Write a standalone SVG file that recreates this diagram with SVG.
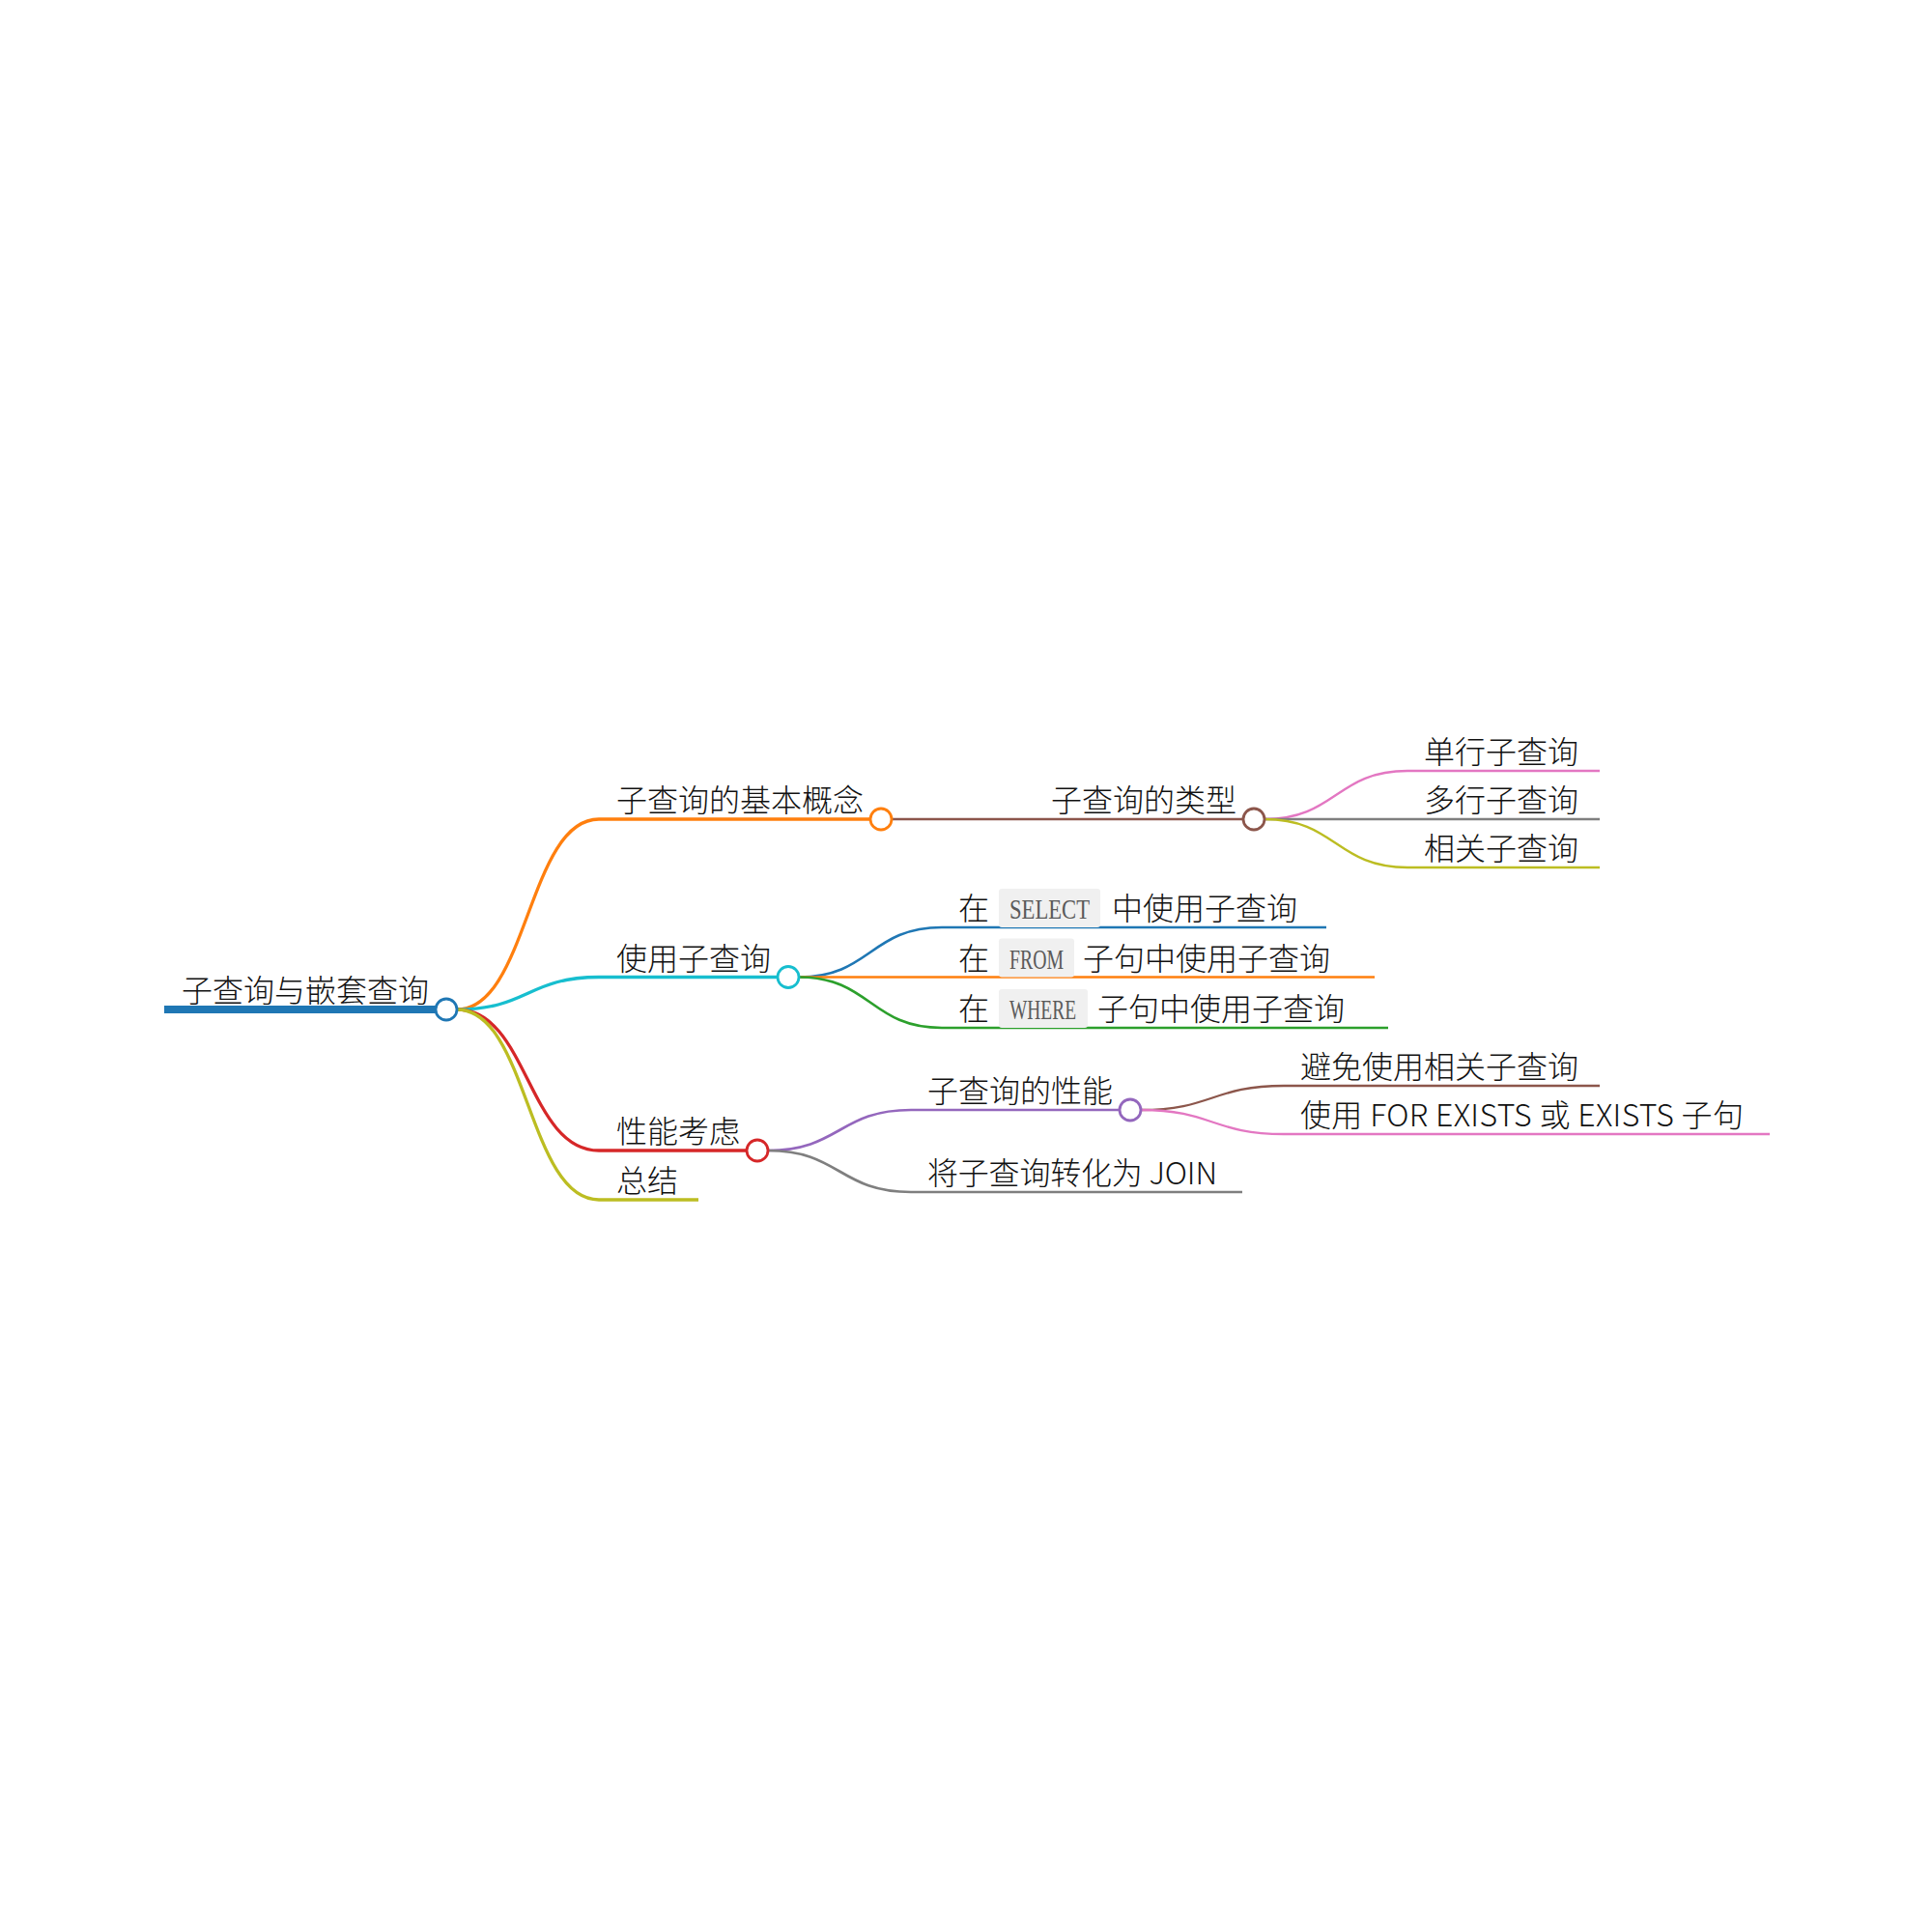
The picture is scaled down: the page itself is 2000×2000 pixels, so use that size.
<svg xmlns="http://www.w3.org/2000/svg" width="2000" height="2000" viewBox="0 0 2000 2000">
<style>
.t{font-family:"Noto Sans CJK SC","Noto Sans",sans-serif;font-size:32px;font-weight:300;fill:#111}
.c{font-family:"Liberation Serif",serif;font-size:29px;fill:#5a5a5a}
.box{fill:#f0f0f0}
.lk{fill:none;stroke-linecap:butt}
.d1{stroke-width:3.3}
.d2{stroke-width:2.7}
.d3{stroke-width:2.3}
.dot{fill:#fff;stroke-width:2.8}
</style>
<rect width="2000" height="2000" fill="#fff"/>
<g id="connectors" class="lk">
<path class="d1" stroke="#ff7f0e" d="M473,1045 C546.5,1045 546.5,848 620,848"/>
<path class="d1" stroke="#17becf" d="M473,1045 C546.5,1045 546.5,1011.5 620,1011.5"/>
<path class="d1" stroke="#d62728" d="M473,1045 C546.5,1045 546.5,1191 620,1191"/>
<path class="d1" stroke="#bcbd22" d="M473,1045 C546.5,1045 546.5,1242 620,1242"/>
<path class="d2" stroke="#8c564b" d="M923,848 L1071,848"/>
<path class="d2" stroke="#1f77b4" d="M827,1011.5 C901,1011.5 901,960 975,960"/>
<path class="d2" stroke="#ff7f0e" d="M827,1011.5 L975,1011.5"/>
<path class="d2" stroke="#2ca02c" d="M827,1011.5 C901,1011.5 901,1064 975,1064"/>
<path class="d2" stroke="#9467bd" d="M795,1191 C869,1191 869,1149 943,1149"/>
<path class="d2" stroke="#7f7f7f" d="M795,1191 C869,1191 869,1234 943,1234"/>
<path class="d3" stroke="#e377c2" d="M1309,848 C1383,848 1383,798 1457,798"/>
<path class="d3" stroke="#7f7f7f" d="M1309,848 L1457,848"/>
<path class="d3" stroke="#bcbd22" d="M1309,848 C1383,848 1383,898 1457,898"/>
<path class="d3" stroke="#8c564b" d="M1181,1149 C1255,1149 1255,1124 1329,1124"/>
<path class="d3" stroke="#e377c2" d="M1181,1149 C1255,1149 1255,1174 1329,1174"/>
</g>
<g id="root">
<line x1="170" y1="1045" x2="462" y2="1045" stroke="#1f77b4" stroke-width="8"/>
<text class="t" x="188" y="1037">子查询与嵌套查询</text>
<circle class="dot" cx="462" cy="1045" r="11" stroke="#1f77b4"/>
</g>
<g id="n-basic">
<line x1="620" y1="848" x2="912" y2="848" stroke="#ff7f0e" stroke-width="3.3"/>
<text class="t" x="638" y="840">子查询的基本概念</text>
<circle class="dot" cx="912" cy="848" r="11" stroke="#ff7f0e"/>
</g>
<g id="n-types">
<line x1="1071" y1="848" x2="1298" y2="848" stroke="#8c564b" stroke-width="2.7"/>
<text class="t" x="1088" y="840">子查询的类型</text>
<circle class="dot" cx="1298" cy="848" r="11" stroke="#8c564b"/>
</g>
<g id="n-single">
<line x1="1457" y1="798" x2="1656" y2="798" stroke="#e377c2" stroke-width="2.3"/>
<text class="t" x="1474" y="790">单行子查询</text>
</g>
<g id="n-multi">
<line x1="1457" y1="848" x2="1656" y2="848" stroke="#7f7f7f" stroke-width="2.3"/>
<text class="t" x="1474" y="840">多行子查询</text>
</g>
<g id="n-corr">
<line x1="1457" y1="898" x2="1656" y2="898" stroke="#bcbd22" stroke-width="2.3"/>
<text class="t" x="1474" y="890">相关子查询</text>
</g>
<g id="n-use">
<line x1="620" y1="1011.5" x2="816" y2="1011.5" stroke="#17becf" stroke-width="3.3"/>
<text class="t" x="638" y="1003.5">使用子查询</text>
<circle class="dot" cx="816" cy="1011.5" r="11" stroke="#17becf"/>
</g>
<g id="n-select">
<line x1="975" y1="960" x2="1373" y2="960" stroke="#1f77b4" stroke-width="2.7"/>
<text class="t" x="992" y="952">在</text>
<rect class="box" x="1034" y="920" width="105" height="40" rx="3"/>
<text class="c" x="1045" y="951" textLength="83" lengthAdjust="spacingAndGlyphs">SELECT</text>
<text class="t" x="1151" y="952">中使用子查询</text>
</g>
<g id="n-from">
<line x1="975" y1="1011.5" x2="1423" y2="1011.5" stroke="#ff7f0e" stroke-width="2.7"/>
<text class="t" x="992" y="1003.5">在</text>
<rect class="box" x="1034" y="971.5" width="78" height="40" rx="3"/>
<text class="c" x="1045" y="1002.5" textLength="56" lengthAdjust="spacingAndGlyphs">FROM</text>
<text class="t" x="1121" y="1003.5">子句中使用子查询</text>
</g>
<g id="n-where">
<line x1="975" y1="1064" x2="1437" y2="1064" stroke="#2ca02c" stroke-width="2.7"/>
<text class="t" x="992" y="1056">在</text>
<rect class="box" x="1034" y="1024" width="92" height="40" rx="3"/>
<text class="c" x="1045" y="1055" textLength="69" lengthAdjust="spacingAndGlyphs">WHERE</text>
<text class="t" x="1136" y="1056">子句中使用子查询</text>
</g>
<g id="n-perf">
<line x1="620" y1="1191" x2="784" y2="1191" stroke="#d62728" stroke-width="3.3"/>
<text class="t" x="638" y="1183">性能考虑</text>
<circle class="dot" cx="784" cy="1191" r="11" stroke="#d62728"/>
</g>
<g id="n-subperf">
<line x1="943" y1="1149" x2="1170" y2="1149" stroke="#9467bd" stroke-width="2.7"/>
<text class="t" x="960" y="1141">子查询的性能</text>
<circle class="dot" cx="1170" cy="1149" r="11" stroke="#9467bd"/>
</g>
<g id="n-avoid">
<line x1="1329" y1="1124" x2="1656" y2="1124" stroke="#8c564b" stroke-width="2.3"/>
<text class="t" x="1346" y="1116">避免使用相关子查询</text>
</g>
<g id="n-exists">
<line x1="1329" y1="1174" x2="1832" y2="1174" stroke="#e377c2" stroke-width="2.3"/>
<text class="t" x="1346" y="1166" textLength="459">使用 FOR EXISTS 或 EXISTS 子句</text>
</g>
<g id="n-join">
<line x1="943" y1="1234" x2="1286" y2="1234" stroke="#7f7f7f" stroke-width="2.7"/>
<text class="t" x="960" y="1226" textLength="300">将子查询转化为 JOIN</text>
</g>
<g id="n-summary">
<line x1="620" y1="1242" x2="723" y2="1242" stroke="#bcbd22" stroke-width="3.3"/>
<text class="t" x="638" y="1234">总结</text>
</g>
</svg>
